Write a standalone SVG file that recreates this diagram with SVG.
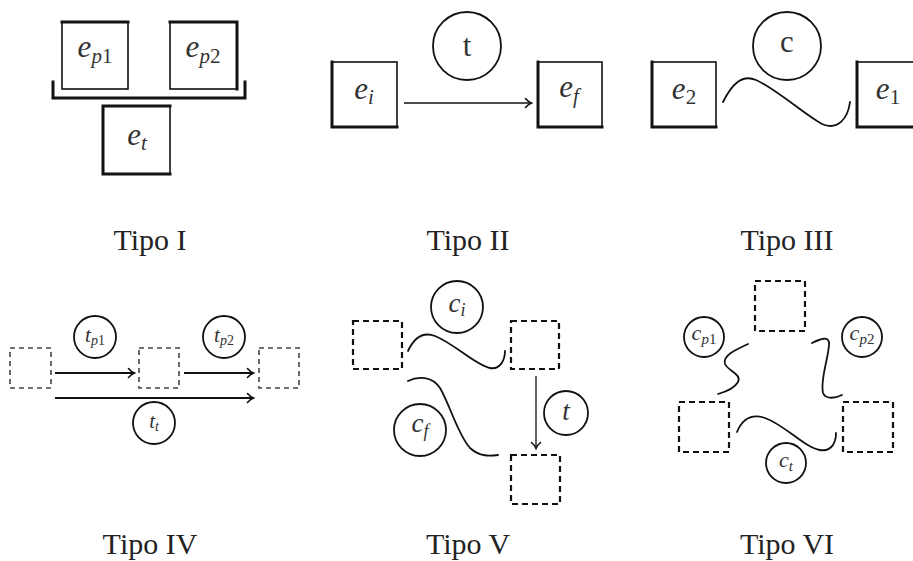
<svg xmlns="http://www.w3.org/2000/svg" width="913" height="561" viewBox="0 0 913 561">
  <style>
    .box { fill: none; stroke: #111; stroke-width: 1.6; }
    .edge { fill: none; stroke: #111; stroke-width: 3; stroke-linecap: square; }
    .dash { fill: none; stroke: #111; stroke-width: 2.2; stroke-dasharray: 6 4; }
    .dashg { fill: none; stroke: #444; stroke-width: 1.6; stroke-dasharray: 5 4; }
    .ring { fill: none; stroke: #111; stroke-width: 1.8; }
    .wire { fill: none; stroke: #111; stroke-width: 1.8; stroke-linecap: round; }
    .arrow { fill: none; stroke: #111; }
    .m { font-family: "Liberation Serif", "DejaVu Serif", serif; font-style: italic; fill: #333; text-anchor: middle; }
    .up { font-style: normal; }
    .cap { font-family: "Liberation Serif", "DejaVu Serif", serif; font-size: 30px; fill: #222; text-anchor: middle; }
  </style>
  <defs>
    <marker id="to" viewBox="-7 -6 9 12" markerWidth="9" markerHeight="12" refX="0" refY="0" orient="auto" markerUnits="userSpaceOnUse">
      <path d="M-5.5,-4.5 C-3.5,-2 -1,-0.6 0.5,0 C-1,0.6 -3.5,2 -5.5,4.5" fill="none" stroke="#111" stroke-width="1.6" stroke-linecap="round"/>
    </marker>
  </defs>

  <!-- Tipo I -->
  <g id="ep1">
    <rect class="box" x="62" y="22" width="66" height="67"/>
    <path class="edge" d="M62,22 H128"/>
    <text class="m" x="95" y="57" font-size="31">e<tspan font-size="21" dy="6">p</tspan><tspan class="up" font-size="21">1</tspan></text>
  </g>
  <g id="ep2">
    <rect class="box" x="170" y="22" width="67" height="67"/>
    <path class="edge" d="M170,22 H237 V89"/>
    <text class="m" x="203" y="57" font-size="31">e<tspan font-size="21" dy="6">p</tspan><tspan class="up" font-size="21">2</tspan></text>
  </g>
  <g id="bracket">
    <path class="edge" d="M53,82 V98 H245 V82" stroke-linecap="butt"/>
  </g>
  <g id="et">
    <rect class="box" x="103" y="106" width="67" height="68"/>
    <path class="edge" d="M170,106 H103 V174 H170"/>
    <text class="m" x="137" y="145" font-size="31">e<tspan font-size="21" dy="5">t</tspan></text>
  </g>
  <text class="cap" x="150" y="250">Tipo I</text>

  <!-- Tipo II -->
  <g id="ei">
    <rect class="box" x="332" y="62" width="65" height="65"/>
    <path class="edge" d="M332,62 V127 H397"/>
    <text class="m" x="364" y="99" font-size="31">e<tspan font-size="21" dy="5">i</tspan></text>
  </g>
  <g id="ef">
    <rect class="box" x="538" y="62" width="64" height="65"/>
    <path class="edge" d="M538,62 V127 H602"/>
    <text class="m" x="569" y="97" font-size="31">e<tspan font-size="21" dy="6">f</tspan></text>
  </g>
  <g id="t2">
    <circle class="ring" cx="467" cy="46" r="34"/>
    <text class="m up" x="467" y="56" font-size="31">t</text>
  </g>
  <text class="cap" x="468" y="250">Tipo II</text>

  <!-- Tipo III -->
  <g id="e2">
    <rect class="box" x="652" y="62" width="64" height="65"/>
    <path class="edge" d="M652,62 V127 H716"/>
    <text class="m" x="684" y="99" font-size="31">e<tspan class="up" font-size="21" dy="5">2</tspan></text>
  </g>
  <g id="e1">
    <rect class="box" x="857" y="62" width="70" height="65"/>
    <path class="edge" d="M857,62 V127 H920"/>
    <text class="m" x="888" y="99" font-size="31">e<tspan class="up" font-size="21" dy="5">1</tspan></text>
  </g>
  <g id="c3">
    <circle class="ring" cx="787" cy="46" r="34"/>
    <text class="m up" x="787" y="52" font-size="31">c</text>
  </g>
  <text class="cap" x="787" y="250">Tipo III</text>

  <!-- Tipo IV -->
  <g id="s4a"><rect class="dashg" x="10" y="348" width="41" height="40"/></g>
  <g id="s4b"><rect class="dashg" x="139" y="348" width="40" height="40"/></g>
  <g id="s4c"><rect class="dashg" x="259" y="348" width="40" height="40"/></g>
  <g id="tp1">
    <circle class="ring" cx="95" cy="337" r="21" stroke-width="1.5"/>
    <text class="m" x="95" y="342" font-size="21">t<tspan font-size="14" dy="3">p</tspan><tspan class="up" font-size="14">1</tspan></text>
  </g>
  <g id="tp2">
    <circle class="ring" cx="224" cy="337" r="21" stroke-width="1.5"/>
    <text class="m" x="224" y="342" font-size="21">t<tspan font-size="14" dy="3">p</tspan><tspan class="up" font-size="14">2</tspan></text>
  </g>
  <g id="tt">
    <circle class="ring" cx="154" cy="423" r="21" stroke-width="1.5"/>
    <text class="m" x="154" y="428" font-size="21">t<tspan font-size="14" dy="3">t</tspan></text>
  </g>
  <text class="cap" x="150" y="554">Tipo IV</text>

  <!-- Tipo V -->
  <g id="s5a"><rect class="dash" x="353" y="321" width="49" height="48"/></g>
  <g id="s5b"><rect class="dash" x="511" y="321" width="48" height="48"/></g>
  <g id="s5c"><rect class="dash" x="511" y="455" width="49" height="49"/></g>
  <g id="ci">
    <circle class="ring" cx="457" cy="307" r="26"/>
    <text class="m" x="457" y="312" font-size="27">c<tspan font-size="18" dy="4">i</tspan></text>
  </g>
  <g id="cf">
    <circle class="ring" cx="420" cy="430" r="26"/>
    <text class="m" x="420" y="432" font-size="27">c<tspan font-size="18" dy="5">f</tspan></text>
  </g>
  <g id="t5">
    <circle class="ring" cx="566" cy="413" r="22"/>
    <text class="m" x="566" y="420" font-size="27">t</text>
  </g>
  <text class="cap" x="468" y="554">Tipo V</text>

  <!-- Tipo VI -->
  <g id="s6a"><rect class="dash" x="755" y="281" width="50" height="50"/></g>
  <g id="s6b"><rect class="dash" x="679" y="402" width="50" height="50"/></g>
  <g id="s6c"><rect class="dash" x="843" y="402" width="50" height="50"/></g>
  <g id="cp1">
    <circle class="ring" cx="704" cy="337" r="20"/>
    <text class="m" x="704" y="340" font-size="22">c<tspan font-size="15" dy="4">p</tspan><tspan class="up" font-size="15">1</tspan></text>
  </g>
  <g id="cp2">
    <circle class="ring" cx="862" cy="337" r="20"/>
    <text class="m" x="862" y="340" font-size="22">c<tspan font-size="15" dy="4">p</tspan><tspan class="up" font-size="15">2</tspan></text>
  </g>
  <g id="ct">
    <circle class="ring" cx="786" cy="463" r="20"/>
    <text class="m" x="786" y="467" font-size="22">c<tspan font-size="15" dy="4">t</tspan></text>
  </g>
  <text class="cap" x="787" y="554">Tipo VI</text>

  <!-- connectors -->
  <g id="connectors">
    <path class="arrow" stroke-width="1.5" d="M404,103 H531" marker-end="url(#to)"/>
    <path class="wire" d="M723,102 C732,84 742,74 756,80 C775,88 805,115 822,124 C838,131 848,118 850,102"/>

    <path class="arrow" stroke-width="2.2" d="M55,373 H134" marker-end="url(#to)"/>
    <path class="arrow" stroke-width="2.2" d="M184,373 H253" marker-end="url(#to)"/>
    <path class="arrow" stroke-width="2.2" d="M55,398 H253" marker-end="url(#to)"/>

    <path class="wire" d="M408,351 C414,338 422,331 435,336 C455,344 475,365 490,368 C500,370 505,360 505,351"/>
    <path class="wire" d="M408,381 C418,376 432,376 440,388 C450,405 458,435 470,448 C480,457 490,456 498,455"/>
    <path class="arrow" stroke-width="1.3" d="M536,376 V448" marker-end="url(#to)"/>

    <path class="wire" d="M748,344 C735,350 722,356 725,364 C728,371 742,374 738,382 C734,389 725,392 718,394"/>
    <path class="wire" d="M812,343 C820,339 830,335 829,345 C828,360 820,380 823,393 C826,400 836,398 842,395"/>
    <path class="wire" d="M737,432 C742,420 750,413 765,418 C785,425 805,448 820,450 C832,452 836,442 836,433"/>
  </g>
</svg>
